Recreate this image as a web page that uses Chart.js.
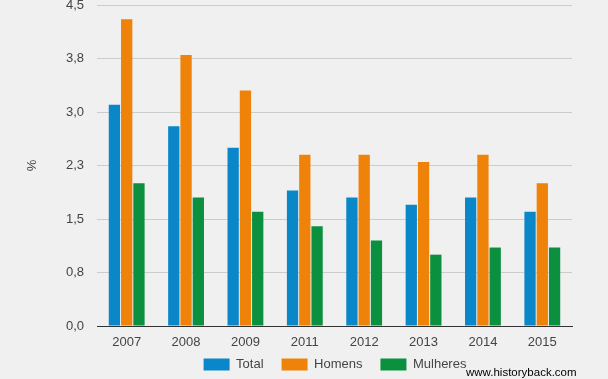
<!DOCTYPE html>
<html>
<head>
<meta charset="utf-8">
<script src="https://cdn.jsdelivr.net/npm/chart.js@4.4.0/dist/chart.umd.min.js"></script>
<style>
  html, body { margin: 0; padding: 0; background: #f0f0f0; }
  #wrap { position: relative; width: 608px; height: 379px; }
</style>
</head>
<body>
<div id="wrap"><canvas id="c" width="608" height="379"></canvas></div>
<script>
const categories = ['2007', '2008', '2009', '2011', '2012', '2013', '2014', '2015'];
const total    = [3.1, 2.8, 2.5, 1.9, 1.8, 1.7, 1.8, 1.6];
const homens   = [4.3, 3.8, 3.3, 2.4, 2.4, 2.3, 2.4, 2.0];
const mulheres = [2.0, 1.8, 1.6, 1.4, 1.2, 1.0, 1.1, 1.1];
const tickValues = [0, 0.75, 1.5, 2.25, 3.0, 3.75, 4.5];
const tickLabels = ['0,0', '0,8', '1,5', '2,3', '3,0', '3,8', '4,5'];
const seriesNames = ['Total', 'Homens', 'Mulheres'];
const watermark = 'www.historyback.com';

const FONT = 'Arial, "Liberation Sans", sans-serif';
Chart.defaults.font.family = FONT;
Chart.defaults.font.size = 13;
Chart.defaults.color = '#444';

const bgPlugin = {
  id: 'bg',
  beforeDraw(chart) {
    const ctx = chart.ctx;
    ctx.save();
    ctx.fillStyle = '#f0f0f0';
    ctx.fillRect(0, 0, chart.width, chart.height);
    ctx.restore();
  },
  afterLayout(chart) {
    if (chart.legend) {
      chart.legend.left += 49;
      chart.legend.right += 49;
    }
    if (chart.scales.x) {
      chart.scales.x.bottom = chart.height;
    }
  },
  afterDraw(chart) {
    const ctx = chart.ctx;
    ctx.save();
    ctx.font = '11.5px ' + FONT;
    ctx.fillStyle = '#000';
    ctx.textAlign = 'left';
    ctx.textBaseline = 'alphabetic';
    ctx.fillText(watermark, 466, 376);
    ctx.restore();
  }
};

new Chart(document.getElementById('c'), {
  type: 'bar',
  data: {
    labels: categories,
    datasets: [
      { label: seriesNames[0], data: total, backgroundColor: '#0a87c9' },
      { label: seriesNames[1], data: homens, backgroundColor: '#ef8208' },
      { label: seriesNames[2], data: mulheres, backgroundColor: '#0b903f' }
    ]
  },
  options: {
    responsive: false,
    animation: false,
    devicePixelRatio: 1,
    layout: { padding: { top: 5, right: 36, bottom: -2, left: 0 } },
    datasets: { bar: { categoryPercentage: 0.62, barPercentage: 0.92 } },
    plugins: {
      legend: {
        position: 'bottom',
        labels: { boxWidth: 26, boxHeight: 12, padding: 18, color: '#444', font: { size: 13 } }
      },
      tooltip: { enabled: false }
    },
    scales: {
      x: {
        grid: { display: false, drawTicks: false },
        border: { display: true, color: '#333', width: 1 },
        ticks: { padding: 9, color: '#444', font: { size: 13 } },
        afterFit(s) { s.height = 14; s.paddingLeft = 0; s.paddingRight = 0; }
      },
      y: {
        min: 0, max: 4.5,
        afterBuildTicks(s) { s.ticks = tickValues.map(v => ({ value: v })); },
        afterFit(s) { s.width = 97; s.paddingTop = 0; s.paddingBottom = 0; },
        grid: { color: '#cccccc', drawTicks: false },
        border: { display: false },
        ticks: {
          padding: 13, color: '#444', font: { size: 13 },
          callback(v, i) { return tickLabels[i]; }
        },
        title: { display: true, text: '%', color: '#444', font: { size: 13 }, padding: { top: 25, bottom: 0 } }
      }
    }
  },
  plugins: [bgPlugin]
});
</script>
</body>
</html>
